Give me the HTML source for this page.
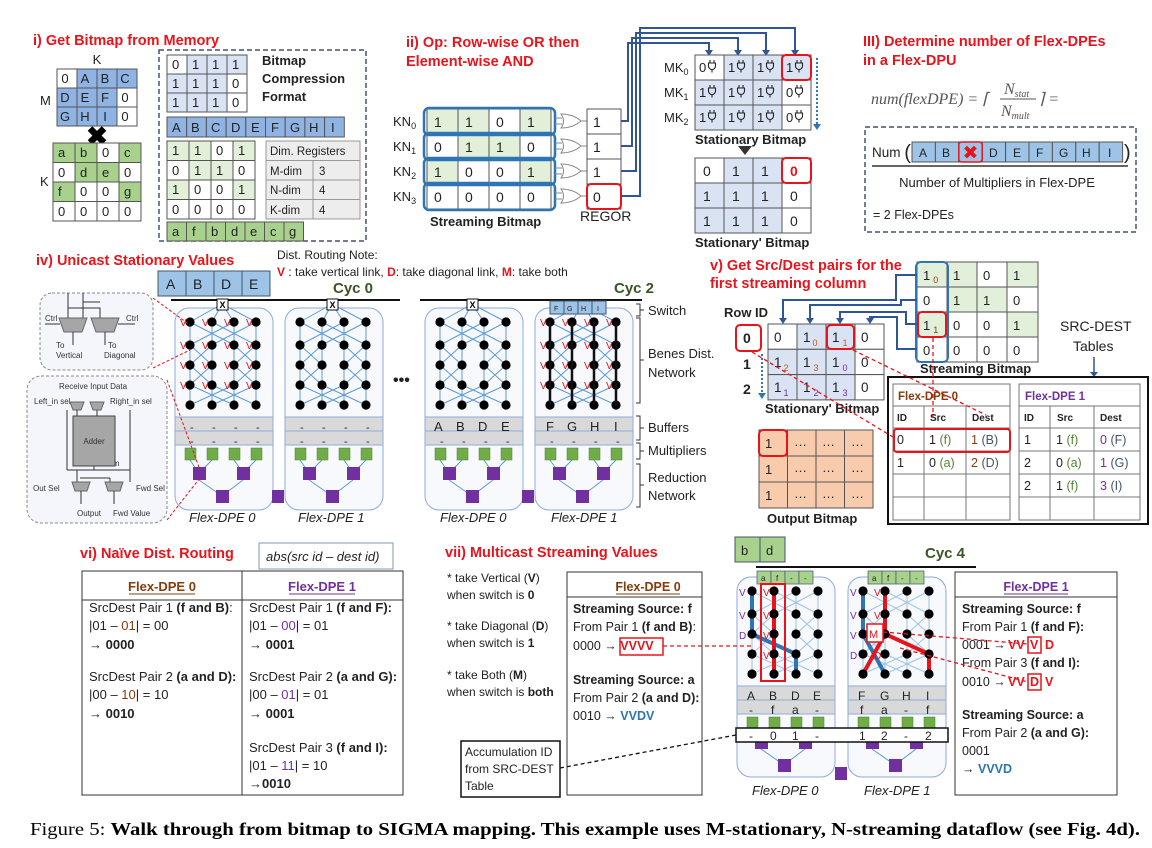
<!DOCTYPE html>
<html><head><meta charset="utf-8"><style>
html,body{margin:0;padding:0;background:#fff;}
svg{display:block;font-family:"Liberation Sans",Arial,sans-serif;}
.t{font-size:13px;fill:#222}
.ti{font-size:14.5px;font-weight:bold;fill:#e8141b}
.b{font-weight:bold}
.c{text-anchor:middle}
.s{font-size:8px;fill:#333}
</style></head><body>
<svg width="1152" height="848" viewBox="0 0 1152 848" xmlns="http://www.w3.org/2000/svg">
<defs>
<g id="net">
 <g stroke="#5b9bd5" stroke-width="1" fill="none">
  <path d="M47,-4L15,14M47,-4L37,14M47,-4L59,14M47,-4L81,14"/>
  <path d="M15,14V97M37,14V97M59,14V97M81,14V97"/>
  <path d="M15,14L59,37M59,14L15,37M37,14L81,37M81,14L37,37"/>
  <path d="M15,37L37,57M37,37L15,57M59,37L81,57M81,37L59,57"/>
  <path d="M15,57L37,77M37,57L15,77M59,57L81,77M81,57L59,77"/>
  <path d="M15,77L59,97M59,77L15,97M37,77L81,97M81,77L37,97"/>
 </g>
 <g id="dots" fill="#000">
  <circle cx="15" cy="14" r="4.6"/><circle cx="37" cy="14" r="4.6"/><circle cx="59" cy="14" r="4.6"/><circle cx="81" cy="14" r="4.6"/>
  <circle cx="15" cy="37" r="4.6"/><circle cx="37" cy="37" r="4.6"/><circle cx="59" cy="37" r="4.6"/><circle cx="81" cy="37" r="4.6"/>
  <circle cx="15" cy="57" r="4.6"/><circle cx="37" cy="57" r="4.6"/><circle cx="59" cy="57" r="4.6"/><circle cx="81" cy="57" r="4.6"/>
  <circle cx="15" cy="77" r="4.6"/><circle cx="37" cy="77" r="4.6"/><circle cx="59" cy="77" r="4.6"/><circle cx="81" cy="77" r="4.6"/>
  <circle cx="15" cy="97" r="4.6"/><circle cx="37" cy="97" r="4.6"/><circle cx="59" cy="97" r="4.6"/><circle cx="81" cy="97" r="4.6"/>
 </g>
</g>
<g id="netl">
 <g stroke="#9dc3e6" stroke-width="1" fill="none">
  <path d="M15,14V97M37,14V97M59,14V97M81,14V97"/>
  <path d="M15,14L59,37M59,14L15,37M37,14L81,37M81,14L37,37"/>
  <path d="M15,37L37,57M37,37L15,57M59,37L81,57M81,37L59,57"/>
  <path d="M15,57L37,77M37,57L15,77M59,57L81,77M81,57L59,77"/>
  <path d="M15,77L59,97M59,77L15,97M37,77L81,97M81,77L37,97"/>
 </g>
</g>
<g id="bot">
 <rect x="0" y="109" width="98" height="14" fill="#d9d9d9" stroke="#8faadc"/>
 <rect x="0" y="123" width="98" height="14" fill="#d9d9d9" stroke="#8faadc"/>
 <g stroke="#5b9bd5" fill="none"><path d="M15,152L24,165M37,152L24,165M59,152L68,165M81,152L68,165M24,172L47,188M68,172L47,188"/></g>
 <g fill="#70ad47" stroke="#507e32" stroke-width=".5"><rect x="10" y="140" width="11" height="12"/><rect x="32" y="140" width="11" height="12"/><rect x="54" y="140" width="11" height="12"/><rect x="76" y="140" width="11" height="12"/></g>
 <g fill="#7030a0"><rect x="18" y="159" width="13" height="13"/><rect x="62" y="159" width="13" height="13"/><rect x="41" y="182" width="13" height="13"/></g>
</g>
<g id="panel"><rect x="0" y="0" width="98" height="202" rx="14" fill="#f7f9fd" stroke="#8faadc"/><use href="#net"/><use href="#bot"/></g>
<g id="plug"><path d="M1,0v3M5,0v3M-0.5,3h7v3a3.5,3.5 0 0 1 -7,0z M3,9.5v3" stroke="#222" stroke-width="1.1" fill="none"/></g>
<g id="orgate"><path d="M0,-7Q12,-7 20,0Q12,7 0,7Q5,0 0,-7Z M-6,-3h7M-6,3h7M20,0h7" stroke="#888" fill="#fff"/></g>
</defs>

<!-- ================= i ================= -->
<text x="33" y="45" class="ti">i) Get Bitmap from Memory</text>
<text x="97" y="64" class="t c">K</text>
<text x="40" y="105" class="t">M</text>
<g stroke="#555" stroke-width="1">
<rect x="57" y="69" width="20" height="19" fill="#fff"/><rect x="77" y="69" width="20" height="19" fill="#8fb4e3"/><rect x="97" y="69" width="20" height="19" fill="#8fb4e3"/><rect x="117" y="69" width="20" height="19" fill="#8fb4e3"/>
<rect x="57" y="88" width="20" height="19" fill="#8fb4e3"/><rect x="77" y="88" width="20" height="19" fill="#8fb4e3"/><rect x="97" y="88" width="20" height="19" fill="#8fb4e3"/><rect x="117" y="88" width="20" height="19" fill="#fff"/>
<rect x="57" y="107" width="20" height="19" fill="#8fb4e3"/><rect x="77" y="107" width="20" height="19" fill="#8fb4e3"/><rect x="97" y="107" width="20" height="19" fill="#8fb4e3"/><rect x="117" y="107" width="20" height="19" fill="#fff"/>
</g>
<g class="t c"><text x="65" y="83">0</text><text x="85" y="83">A</text><text x="105" y="83">B</text><text x="125" y="83">C</text>
<text x="65" y="102">D</text><text x="85" y="102">E</text><text x="105" y="102">F</text><text x="125" y="102">0</text>
<text x="65" y="121">G</text><text x="85" y="121">H</text><text x="105" y="121">I</text><text x="125" y="121">0</text></g>
<text x="97" y="145" class="c" style="font-size:26px;font-weight:bold">✖</text>
<text x="95" y="160" class="t c">N</text>
<text x="40" y="186" class="t">K</text>
<g stroke="#555">
<rect x="53" y="143" width="22" height="19.5" fill="#a9d18e"/><rect x="75" y="143" width="22" height="19.5" fill="#a9d18e"/><rect x="97" y="143" width="22" height="19.5" fill="#fff"/><rect x="119" y="143" width="22" height="19.5" fill="#a9d18e"/>
<rect x="53" y="162.5" width="22" height="19.5" fill="#fff"/><rect x="75" y="162.5" width="22" height="19.5" fill="#a9d18e"/><rect x="97" y="162.5" width="22" height="19.5" fill="#a9d18e"/><rect x="119" y="162.5" width="22" height="19.5" fill="#fff"/>
<rect x="53" y="182" width="22" height="19.5" fill="#a9d18e"/><rect x="75" y="182" width="22" height="19.5" fill="#fff"/><rect x="97" y="182" width="22" height="19.5" fill="#fff"/><rect x="119" y="182" width="22" height="19.5" fill="#a9d18e"/>
<rect x="53" y="201.5" width="22" height="19.5" fill="#fff"/><rect x="75" y="201.5" width="22" height="19.5" fill="#fff"/><rect x="97" y="201.5" width="22" height="19.5" fill="#fff"/><rect x="119" y="201.5" width="22" height="19.5" fill="#fff"/>
</g>
<g class="t"><text x="58" y="157">a</text><text x="80" y="157">b</text><text x="102" y="157">0</text><text x="124" y="157">c</text>
<text x="58" y="177">0</text><text x="80" y="177">d</text><text x="102" y="177">e</text><text x="124" y="177">0</text>
<text x="58" y="196">f</text><text x="80" y="196">0</text><text x="102" y="196">0</text><text x="124" y="196">g</text>
<text x="58" y="216">0</text><text x="80" y="216">0</text><text x="102" y="216">0</text><text x="124" y="216">0</text></g>

<rect x="159" y="50" width="207" height="191" fill="none" stroke="#44546a" stroke-dasharray="5,3" stroke-width="1.5"/>
<g stroke="#555">
<rect x="167" y="55" width="20" height="19" fill="#fff"/><rect x="187" y="55" width="20" height="19" fill="#dae3f3"/><rect x="207" y="55" width="20" height="19" fill="#dae3f3"/><rect x="227" y="55" width="20" height="19" fill="#dae3f3"/>
<rect x="167" y="74" width="20" height="19" fill="#dae3f3"/><rect x="187" y="74" width="20" height="19" fill="#dae3f3"/><rect x="207" y="74" width="20" height="19" fill="#dae3f3"/><rect x="227" y="74" width="20" height="19" fill="#fff"/>
<rect x="167" y="93" width="20" height="19" fill="#dae3f3"/><rect x="187" y="93" width="20" height="19" fill="#dae3f3"/><rect x="207" y="93" width="20" height="19" fill="#dae3f3"/><rect x="227" y="93" width="20" height="19" fill="#fff"/>
</g>
<g class="t"><text x="172" y="69">0</text><text x="192" y="69">1</text><text x="212" y="69">1</text><text x="232" y="69">1</text>
<text x="172" y="88">1</text><text x="192" y="88">1</text><text x="212" y="88">1</text><text x="232" y="88">0</text>
<text x="172" y="107">1</text><text x="192" y="107">1</text><text x="212" y="107">1</text><text x="232" y="107">0</text></g>
<g class="t b"><text x="262" y="65">Bitmap</text><text x="262" y="83">Compression</text><text x="262" y="101">Format</text></g>
<g stroke="#555" fill="#8fb4e3"><rect x="167" y="117" width="19.7" height="20"/><rect x="186.7" y="117" width="19.7" height="20"/><rect x="206.4" y="117" width="19.7" height="20"/><rect x="226.1" y="117" width="19.7" height="20"/><rect x="245.8" y="117" width="19.7" height="20"/><rect x="265.5" y="117" width="19.7" height="20"/><rect x="285.2" y="117" width="19.7" height="20"/><rect x="304.9" y="117" width="19.7" height="20"/><rect x="324.6" y="117" width="19.7" height="20"/></g>
<g class="t"><text x="172" y="132">A</text><text x="191" y="132">B</text><text x="211" y="132">C</text><text x="231" y="132">D</text><text x="251" y="132">E</text><text x="271" y="132">F</text><text x="290" y="132">G</text><text x="309" y="132">H</text><text x="331" y="132">I</text></g>
<g stroke="#555">
<rect x="167" y="141" width="22" height="19.5" fill="#e2f0d9"/><rect x="189" y="141" width="22" height="19.5" fill="#e2f0d9"/><rect x="211" y="141" width="22" height="19.5" fill="#fff"/><rect x="233" y="141" width="22" height="19.5" fill="#e2f0d9"/>
<rect x="167" y="160.5" width="22" height="19.5" fill="#fff"/><rect x="189" y="160.5" width="22" height="19.5" fill="#e2f0d9"/><rect x="211" y="160.5" width="22" height="19.5" fill="#e2f0d9"/><rect x="233" y="160.5" width="22" height="19.5" fill="#fff"/>
<rect x="167" y="180" width="22" height="19.5" fill="#e2f0d9"/><rect x="189" y="180" width="22" height="19.5" fill="#fff"/><rect x="211" y="180" width="22" height="19.5" fill="#fff"/><rect x="233" y="180" width="22" height="19.5" fill="#e2f0d9"/>
<rect x="167" y="199.5" width="22" height="19.5" fill="#fff"/><rect x="189" y="199.5" width="22" height="19.5" fill="#fff"/><rect x="211" y="199.5" width="22" height="19.5" fill="#fff"/><rect x="233" y="199.5" width="22" height="19.5" fill="#fff"/>
</g>
<g class="t"><text x="172" y="155">1</text><text x="194" y="155">1</text><text x="216" y="155">0</text><text x="238" y="155">1</text>
<text x="172" y="175">0</text><text x="194" y="175">1</text><text x="216" y="175">1</text><text x="238" y="175">0</text>
<text x="172" y="194">1</text><text x="194" y="194">0</text><text x="216" y="194">0</text><text x="238" y="194">1</text>
<text x="172" y="214">0</text><text x="194" y="214">0</text><text x="216" y="214">0</text><text x="238" y="214">0</text></g>
<g stroke="#999" fill="#ededed"><rect x="266" y="141" width="94" height="19.5"/><rect x="266" y="160.5" width="47" height="19.5"/><rect x="313" y="160.5" width="47" height="19.5"/><rect x="266" y="180" width="47" height="19.5"/><rect x="313" y="180" width="47" height="19.5"/><rect x="266" y="199.5" width="47" height="19.5"/><rect x="313" y="199.5" width="47" height="19.5"/></g>
<g class="t" style="font-size:11.5px"><text x="270" y="155">Dim. Registers</text><text x="270" y="175">M-dim</text><text x="319" y="175">3</text><text x="270" y="194">N-dim</text><text x="319" y="194">4</text><text x="270" y="214">K-dim</text><text x="319" y="214">4</text></g>
<g stroke="#555" fill="#a9d18e"><rect x="167" y="222" width="19.5" height="19"/><rect x="186.5" y="222" width="19.5" height="19"/><rect x="206" y="222" width="19.5" height="19"/><rect x="225.5" y="222" width="19.5" height="19"/><rect x="245" y="222" width="19.5" height="19"/><rect x="264.5" y="222" width="19.5" height="19"/><rect x="284" y="222" width="19.5" height="19"/></g>
<g class="t"><text x="172" y="236">a</text><text x="192" y="236">f</text><text x="211" y="236">b</text><text x="231" y="236">d</text><text x="250" y="236">e</text><text x="270" y="236">c</text><text x="289" y="236">g</text></g>

<!-- ================= ii ================= -->
<text x="406" y="47" class="ti">ii) Op: Row-wise OR then</text>
<text x="406" y="66" class="ti">Element-wise AND</text>
<g stroke="#555">
<rect x="427" y="109" width="31" height="25" fill="#e2f0d9"/><rect x="458" y="109" width="31" height="25" fill="#e2f0d9"/><rect x="489" y="109" width="31" height="25" fill="#fff"/><rect x="520" y="109" width="31" height="25" fill="#e2f0d9"/>
<rect x="427" y="134" width="31" height="25" fill="#fff"/><rect x="458" y="134" width="31" height="25" fill="#e2f0d9"/><rect x="489" y="134" width="31" height="25" fill="#e2f0d9"/><rect x="520" y="134" width="31" height="25" fill="#fff"/>
<rect x="427" y="159" width="31" height="25" fill="#e2f0d9"/><rect x="458" y="159" width="31" height="25" fill="#fff"/><rect x="489" y="159" width="31" height="25" fill="#fff"/><rect x="520" y="159" width="31" height="25" fill="#e2f0d9"/>
<rect x="427" y="184" width="31" height="25" fill="#fff"/><rect x="458" y="184" width="31" height="25" fill="#fff"/><rect x="489" y="184" width="31" height="25" fill="#fff"/><rect x="520" y="184" width="31" height="25" fill="#fff"/>
</g>
<g fill="none" stroke="#2e75b6" stroke-width="2.5"><rect x="424" y="108" width="131" height="27" rx="5"/><rect x="424" y="133" width="131" height="27" rx="5"/><rect x="424" y="158" width="131" height="27" rx="5"/><rect x="424" y="183" width="131" height="27" rx="5"/></g>
<g class="t" style="font-size:14px"><text x="434" y="127">1</text><text x="465" y="127">1</text><text x="496" y="127">0</text><text x="527" y="127">1</text>
<text x="434" y="152">0</text><text x="465" y="152">1</text><text x="496" y="152">1</text><text x="527" y="152">0</text>
<text x="434" y="177">1</text><text x="465" y="177">0</text><text x="496" y="177">0</text><text x="527" y="177">1</text>
<text x="434" y="202">0</text><text x="465" y="202">0</text><text x="496" y="202">0</text><text x="527" y="202">0</text></g>
<g class="t" style="font-size:13px"><text x="393" y="126">KN<tspan font-size="9" dy="3">0</tspan></text><text x="393" y="151">KN<tspan font-size="9" dy="3">1</tspan></text><text x="393" y="176">KN<tspan font-size="9" dy="3">2</tspan></text><text x="393" y="201">KN<tspan font-size="9" dy="3">3</tspan></text></g>
<text x="430" y="226" class="t b">Streaming Bitmap</text>
<use href="#orgate" x="561" y="121"/><use href="#orgate" x="561" y="146"/><use href="#orgate" x="561" y="171"/><use href="#orgate" x="561" y="196"/>
<g stroke="#555" fill="#fff"><rect x="587" y="109" width="34" height="25"/><rect x="587" y="134" width="34" height="25"/><rect x="587" y="159" width="34" height="25"/><rect x="587" y="184" width="34" height="25"/></g>
<rect x="587" y="184" width="34" height="25" rx="4" fill="none" stroke="#e8141b" stroke-width="2"/>
<g class="t" style="font-size:14px"><text x="593" y="127">1</text><text x="593" y="152">1</text><text x="593" y="177">1</text><text x="593" y="202">0</text></g>
<text x="580" y="221" class="t" style="font-size:14px">REGOR</text>
<g fill="none" stroke="#2f5597" stroke-width="2">
<path d="M621,121H628V43H709V53"/><path d="M621,146H632V38H738V53"/><path d="M621,171H636V33H766V53"/><path d="M621,196H640V28H795V53"/>
</g>
<g fill="#2f5597"><path d="M705,50h8l-4,6z"/><path d="M734,50h8l-4,6z"/><path d="M762,50h8l-4,6z"/><path d="M791,50h8l-4,6z"/></g>
<g stroke="#555">
<rect x="695" y="55" width="29" height="25" fill="#fff"/><rect x="724" y="55" width="29" height="25" fill="#dae3f3"/><rect x="753" y="55" width="29" height="25" fill="#dae3f3"/><rect x="782" y="55" width="29" height="25" fill="#dae3f3"/>
<rect x="695" y="80" width="29" height="25" fill="#dae3f3"/><rect x="724" y="80" width="29" height="25" fill="#dae3f3"/><rect x="753" y="80" width="29" height="25" fill="#dae3f3"/><rect x="782" y="80" width="29" height="25" fill="#fff"/>
<rect x="695" y="105" width="29" height="25" fill="#dae3f3"/><rect x="724" y="105" width="29" height="25" fill="#dae3f3"/><rect x="753" y="105" width="29" height="25" fill="#dae3f3"/><rect x="782" y="105" width="29" height="25" fill="#fff"/>
</g>
<g class="t" style="font-size:13px"><text x="699" y="72">0</text><text x="728" y="72">1</text><text x="757" y="72">1</text><text x="786" y="72">1</text>
<text x="699" y="97">1</text><text x="728" y="97">1</text><text x="757" y="97">1</text><text x="786" y="97">0</text>
<text x="699" y="122">1</text><text x="728" y="122">1</text><text x="757" y="122">1</text><text x="786" y="122">0</text></g>
<use href="#plug" x="709" y="60"/><use href="#plug" x="738" y="60"/><use href="#plug" x="767" y="60"/><use href="#plug" x="796" y="60"/>
<use href="#plug" x="709" y="85"/><use href="#plug" x="738" y="85"/><use href="#plug" x="767" y="85"/><use href="#plug" x="796" y="85"/>
<use href="#plug" x="709" y="110"/><use href="#plug" x="738" y="110"/><use href="#plug" x="767" y="110"/><use href="#plug" x="796" y="110"/>
<rect x="782" y="55" width="29" height="25" rx="4" fill="none" stroke="#e8141b" stroke-width="2"/>
<path d="M817,58V126" stroke="#2e75b6" stroke-width="2" stroke-dasharray="2,2"/><path d="M813,124h8l-4,6z" fill="#2e75b6"/>
<g class="t" style="font-size:13px"><text x="664" y="72">MK<tspan font-size="9" dy="3">0</tspan></text><text x="664" y="97">MK<tspan font-size="9" dy="3">1</tspan></text><text x="664" y="122">MK<tspan font-size="9" dy="3">2</tspan></text></g>
<text x="695" y="144" class="t b">Stationary Bitmap</text>
<path d="M738,146h14l-7,9z" fill="#333"/>
<g stroke="#555">
<rect x="695" y="158" width="29" height="25" fill="#fff"/><rect x="724" y="158" width="29" height="25" fill="#dae3f3"/><rect x="753" y="158" width="29" height="25" fill="#dae3f3"/><rect x="782" y="158" width="29" height="25" fill="#fff"/>
<rect x="695" y="183" width="29" height="25" fill="#dae3f3"/><rect x="724" y="183" width="29" height="25" fill="#dae3f3"/><rect x="753" y="183" width="29" height="25" fill="#dae3f3"/><rect x="782" y="183" width="29" height="25" fill="#fff"/>
<rect x="695" y="208" width="29" height="25" fill="#dae3f3"/><rect x="724" y="208" width="29" height="25" fill="#dae3f3"/><rect x="753" y="208" width="29" height="25" fill="#dae3f3"/><rect x="782" y="208" width="29" height="25" fill="#fff"/>
</g>
<rect x="782" y="158" width="29" height="25" rx="4" fill="none" stroke="#e8141b" stroke-width="2"/>
<g class="t" style="font-size:14px"><text x="703" y="176">0</text><text x="732" y="176">1</text><text x="761" y="176">1</text><text x="790" y="176" fill="#e8141b" font-weight="bold">0</text>
<text x="703" y="201">1</text><text x="732" y="201">1</text><text x="761" y="201">1</text><text x="790" y="201">0</text>
<text x="703" y="226">1</text><text x="732" y="226">1</text><text x="761" y="226">1</text><text x="790" y="226">0</text></g>
<text x="695" y="247" class="t b">Stationary' Bitmap</text>

<!-- ================= III ================= -->
<text x="863" y="46" class="ti">III) Determine number of Flex-DPEs</text>
<text x="863" y="65" class="ti">in a Flex-DPU</text>
<g style="font-family:'Liberation Serif',serif;font-style:italic;font-size:16px" fill="#555">
<text x="871" y="104">num(flexDPE) = ⌈</text>
<text x="1004" y="94">N<tspan font-size="10" dy="3">stat</tspan></text>
<text x="1001" y="116">N<tspan font-size="10" dy="3">mult</tspan></text>
<text x="1038" y="104">⌉  =</text>
</g>
<path d="M1000,99H1036" stroke="#555"/>
<rect x="865" y="127" width="271" height="105" fill="none" stroke="#44546a" stroke-dasharray="5,3" stroke-width="1.5"/>
<text x="872" y="157" class="t" style="font-size:13.5px">Num <tspan font-size="20" dy="2">(</tspan></text>
<g stroke="#555" fill="#9dc3e6"><rect x="912" y="142" width="23.4" height="20"/><rect x="935.4" y="142" width="23.4" height="20"/><rect x="958.8" y="142" width="23.4" height="20"/><rect x="982.2" y="142" width="23.4" height="20"/><rect x="1005.6" y="142" width="23.4" height="20"/><rect x="1029" y="142" width="23.4" height="20"/><rect x="1052.4" y="142" width="23.4" height="20"/><rect x="1075.8" y="142" width="23.4" height="20"/><rect x="1099.2" y="142" width="23.4" height="20"/></g>
<rect x="958.8" y="142" width="23.4" height="20" rx="3" fill="none" stroke="#e8141b" stroke-width="1.5"/>
<text x="970.5" y="159" class="c" fill="#e8141b" style="font-size:19px">✖</text>
<g class="t" style="font-size:12px"><text x="919" y="157">A</text><text x="942" y="157">B</text><text x="989" y="157">D</text><text x="1013" y="157">E</text><text x="1036" y="157">F</text><text x="1059" y="157">G</text><text x="1082" y="157">H</text><text x="1108" y="157">I</text></g>
<text x="1124" y="159" class="t" style="font-size:20px">)</text>
<path d="M872,166H1128" stroke="#333" stroke-width="1.5"/>
<text x="997" y="187" class="t c" style="font-size:13px">Number of Multipliers in Flex-DPE</text>
<text x="873" y="219" class="t" style="font-size:12.5px">= 2 Flex-DPEs</text>

<!-- ================= iv ================= -->
<text x="36" y="265" class="ti">iv) Unicast Stationary Values</text>
<text x="277" y="259" class="t" style="font-size:12px">Dist. Routing Note:</text>
<text x="277" y="276" class="t" style="font-size:12px"><tspan fill="#e8141b" font-weight="bold">V</tspan> : take vertical link,  <tspan fill="#e8141b" font-weight="bold">D</tspan>: take diagonal link, <tspan fill="#e8141b" font-weight="bold">M</tspan>: take both</text>
<g stroke="#44546a" fill="#9dc3e6"><rect x="158" y="271" width="28" height="25"/><rect x="186" y="271" width="28" height="25"/><rect x="214" y="271" width="28" height="25"/><rect x="242" y="271" width="28" height="25"/></g>
<g class="t" style="font-size:14px"><text x="166" y="289">A</text><text x="193" y="289">B</text><text x="221" y="289">D</text><text x="249" y="289">E</text></g>
<text x="333" y="293" class="b" fill="#375623" style="font-size:15px">Cyc 0</text>
<text x="614" y="293" class="b" fill="#375623" style="font-size:15px">Cyc 2</text>
<path d="M171,300H400M420,300H642" stroke="#111" stroke-width="2"/>

<use href="#panel" x="175" y="308"/><use href="#panel" x="285" y="308"/><use href="#panel" x="425" y="308"/><use href="#panel" x="535" y="308"/>
<g stroke="#111" fill="#fff"><rect x="217" y="299" width="11" height="11"/><rect x="327" y="299" width="11" height="11"/><rect x="467" y="299" width="11" height="11"/></g>
<g class="c b" style="font-size:9px"><text x="222.5" y="308">X</text><text x="332.5" y="308">X</text><text x="472.5" y="308">X</text></g>
<g stroke="#111" stroke-width="2.5"><path d="M550,322V405M572,322V405M594,322V405M616,322V405"/></g>
<g stroke="#44546a" fill="#9dc3e6"><rect x="550" y="301" width="14" height="13"/><rect x="564" y="301" width="14" height="13"/><rect x="578" y="301" width="14" height="13"/><rect x="592" y="301" width="14" height="13"/></g>
<g style="font-size:7px" fill="#222"><text x="554" y="311">F</text><text x="567" y="311">G</text><text x="581" y="311">H</text><text x="597" y="311">I</text></g>
<g fill="#e8141b" style="font-size:10px">
<text x="180" y="326">V</text><text x="202" y="326">V</text><text x="224" y="326">V</text><text x="246" y="326">V</text>
<text x="180" y="349">V</text><text x="202" y="349">V</text><text x="224" y="349">V</text><text x="246" y="349">V</text>
<text x="180" y="369">V</text><text x="202" y="369">V</text><text x="224" y="369">V</text><text x="246" y="369">V</text>
<text x="180" y="389">V</text><text x="202" y="389">V</text><text x="224" y="389">V</text><text x="246" y="389">V</text>
<text x="540" y="326">V</text><text x="562" y="326">V</text><text x="584" y="326">V</text><text x="606" y="326">V</text>
<text x="540" y="349">V</text><text x="562" y="349">V</text><text x="584" y="349">V</text><text x="606" y="349">V</text>
<text x="540" y="369">V</text><text x="562" y="369">V</text><text x="584" y="369">V</text><text x="606" y="369">V</text>
<text x="540" y="389">V</text><text x="562" y="389">V</text><text x="584" y="389">V</text><text x="606" y="389">V</text>
</g>
<g class="t" style="font-size:11px" fill="#333">
<text x="190" y="431">-</text><text x="212" y="431">-</text><text x="234" y="431">-</text><text x="256" y="431">-</text>
<text x="190" y="445">-</text><text x="212" y="445">-</text><text x="234" y="445">-</text><text x="256" y="445">-</text>
<text x="300" y="431">-</text><text x="322" y="431">-</text><text x="344" y="431">-</text><text x="366" y="431">-</text>
<text x="300" y="445">-</text><text x="322" y="445">-</text><text x="344" y="445">-</text><text x="366" y="445">-</text>
<text x="440" y="445">-</text><text x="462" y="445">-</text><text x="484" y="445">-</text><text x="506" y="445">-</text>
<text x="550" y="445">-</text><text x="572" y="445">-</text><text x="594" y="445">-</text><text x="616" y="445">-</text>
</g>
<g class="t" style="font-size:13px"><text x="434" y="431">A</text><text x="456" y="431">B</text><text x="478" y="431">D</text><text x="501" y="431">E</text><text x="546" y="431">F</text><text x="567" y="431">G</text><text x="590" y="431">H</text><text x="614" y="431">I</text></g>
<rect x="272" y="490" width="12" height="13" fill="#7030a0"/><rect x="522" y="490" width="12" height="13" fill="#7030a0"/>
<text x="393" y="385" class="t b" style="font-size:16px">•••</text>
<g style="font-family:'Liberation Sans',sans-serif;font-style:italic;font-size:13px" fill="#222"><text x="189" y="522">Flex-DPE 0</text><text x="298" y="522">Flex-DPE 1</text><text x="440" y="522">Flex-DPE 0</text><text x="551" y="522">Flex-DPE 1</text></g>
<g fill="none" stroke="#333"><path d="M636,304h4v6h4M636,316h4v-6"/><path d="M636,318h4v42h4M636,403h4v-43"/><path d="M636,416h4v12h4M636,440h4v-12"/><path d="M636,443h4v8h4M636,459h4v-8"/><path d="M636,464h4v21h4M636,507h4v-22"/></g>
<g class="t" style="font-size:13px"><text x="648" y="315">Switch</text><text x="648" y="358">Benes Dist.</text><text x="648" y="377">Network</text><text x="648" y="432">Buffers</text><text x="648" y="455">Multipliers</text><text x="648" y="482">Reduction</text><text x="648" y="500">Network</text></g>

<!-- left detail boxes -->
<rect x="40" y="293" width="113" height="77" rx="12" fill="#f4f6fb" stroke="#888" stroke-dasharray="3,2"/>
<g stroke="#333" fill="none"><path d="M68,293V330M83,293V330M68,308H100V318M83,302H100M100,302"/></g>
<path d="M59,318h28l-5,14h-18z" fill="#a6a6a6" stroke="#666"/><path d="M91,318h28l-5,14h-18z" fill="#a6a6a6" stroke="#666"/>
<g stroke="#333"><path d="M73,332V345M105,332V345M45,324H60M118,324H135"/></g>
<g class="s"><text x="45" y="321">Ctrl</text><text x="126" y="321">Ctrl</text><text x="56" y="348">To</text><text x="56" y="358">Vertical</text><text x="108" y="348">To</text><text x="104" y="358">Diagonal</text></g>
<rect x="27" y="376" width="140" height="147" rx="14" fill="#f4f6fb" stroke="#888" stroke-dasharray="3,2"/>
<g class="s"><text x="59" y="389">Receive Input Data</text><text x="34" y="404">Left_in sel</text><text x="110" y="404">Right_in sel</text><text x="95" y="466">Accum</text><text x="33" y="491">Out Sel</text><text x="136" y="491">Fwd Sel</text><text x="77" y="516">Output</text><text x="113" y="516">Fwd Value</text></g>
<path d="M70,402h14l-3,8h-8z" fill="#a6a6a6" stroke="#666"/><path d="M90,402h14l-3,8h-8z" fill="#a6a6a6" stroke="#666"/>
<rect x="73" y="416" width="42" height="50" fill="#a6a6a6" stroke="#444"/><text x="94" y="444" class="s c">Adder</text>
<g stroke="#333" fill="none"><path d="M77,410V416M97,410V416M94,466V470M67,470H130M67,410V470M130,410V482M77,470V482M110,478V482M80,478H110"/></g>
<path d="M72,482h18l-3,9h-12z" fill="#a6a6a6" stroke="#666"/><path d="M105,482h18l-3,9h-12z" fill="#a6a6a6" stroke="#666"/>
<g stroke="#333"><path d="M81,491V504M114,491V504"/></g>
<g stroke="#e8141b" stroke-dasharray="3,2" fill="none"><path d="M153,298L190,325M153,368L190,350M167,380L200,470M167,520L200,478"/></g>

<!-- ================= v ================= -->
<text x="710" y="270" class="ti">v) Get Src/Dest pairs for the</text>
<text x="710" y="288" class="ti">first streaming column</text>
<g stroke="#555">
<rect x="917" y="262" width="30" height="25" fill="#e2f0d9"/><rect x="947" y="262" width="30" height="25" fill="#e2f0d9"/><rect x="977" y="262" width="30" height="25" fill="#fff"/><rect x="1007" y="262" width="31" height="25" fill="#e2f0d9"/>
<rect x="917" y="287" width="30" height="25" fill="#fff"/><rect x="947" y="287" width="30" height="25" fill="#e2f0d9"/><rect x="977" y="287" width="30" height="25" fill="#e2f0d9"/><rect x="1007" y="287" width="31" height="25" fill="#fff"/>
<rect x="917" y="312" width="30" height="25" fill="#e2f0d9"/><rect x="947" y="312" width="30" height="25" fill="#fff"/><rect x="977" y="312" width="30" height="25" fill="#fff"/><rect x="1007" y="312" width="31" height="25" fill="#e2f0d9"/>
<rect x="917" y="337" width="30" height="25" fill="#fff"/><rect x="947" y="337" width="30" height="25" fill="#fff"/><rect x="977" y="337" width="30" height="25" fill="#fff"/><rect x="1007" y="337" width="31" height="25" fill="#fff"/>
</g>
<rect x="916" y="262" width="32" height="100" rx="5" fill="none" stroke="#2e75b6" stroke-width="2"/>
<rect x="918" y="312" width="28" height="25" rx="4" fill="none" stroke="#e8141b" stroke-width="2"/>
<g class="t" style="font-size:13px"><text x="923" y="280">1<tspan font-size="9" fill="#843c0c" dx="3" dy="3">0</tspan></text><text x="953" y="280">1</text><text x="983" y="280">0</text><text x="1013" y="280">1</text>
<text x="923" y="305">0</text><text x="953" y="305">1</text><text x="983" y="305">1</text><text x="1013" y="305">0</text>
<text x="923" y="330">1<tspan font-size="9" fill="#843c0c" dx="3" dy="3">1</tspan></text><text x="953" y="330">0</text><text x="983" y="330">0</text><text x="1013" y="330">1</text>
<text x="923" y="355">0</text><text x="953" y="355">0</text><text x="983" y="355">0</text><text x="1013" y="355">0</text></g>
<text x="920" y="373" class="t b">Streaming Bitmap</text>
<g fill="none" stroke="#2f5597" stroke-width="2"><path d="M917,275H896V300H783V319"/><path d="M917,300H901V305H810V319"/><path d="M917,324H906V312H840V319"/><path d="M917,349H897V317H870V319"/></g>
<g fill="#2f5597"><path d="M779,318h8l-4,6z"/><path d="M806,318h8l-4,6z"/><path d="M836,318h8l-4,6z"/><path d="M866,318h8l-4,6z"/></g>
<text x="724" y="317" class="t b">Row ID</text>
<rect x="736" y="325" width="25" height="26" rx="4" fill="none" stroke="#e8141b" stroke-width="2"/>
<g class="t b" style="font-size:14px"><text x="743" y="343">0</text><text x="743" y="369">1</text><text x="743" y="394">2</text></g>
<path d="M762,354V394" stroke="#2e75b6" stroke-width="2" stroke-dasharray="2,2"/><path d="M758,393h8l-4,6z" fill="#2e75b6"/>
<g stroke="#555">
<rect x="768" y="324" width="29" height="25.3" fill="#fff"/><rect x="797" y="324" width="29" height="25.3" fill="#dae3f3"/><rect x="826" y="324" width="29" height="25.3" fill="#dae3f3"/><rect x="855" y="324" width="29" height="25.3" fill="#fff"/>
<rect x="768" y="349.3" width="29" height="25.3" fill="#dae3f3"/><rect x="797" y="349.3" width="29" height="25.3" fill="#dae3f3"/><rect x="826" y="349.3" width="29" height="25.3" fill="#dae3f3"/><rect x="855" y="349.3" width="29" height="25.3" fill="#fff"/>
<rect x="768" y="374.6" width="29" height="25.3" fill="#dae3f3"/><rect x="797" y="374.6" width="29" height="25.3" fill="#dae3f3"/><rect x="826" y="374.6" width="29" height="25.3" fill="#dae3f3"/><rect x="855" y="374.6" width="29" height="25.3" fill="#fff"/>
</g>
<rect x="827" y="325" width="27" height="24" rx="4" fill="none" stroke="#e8141b" stroke-width="2"/>
<g class="t" style="font-size:13.5px">
<text x="774" y="342">0</text><text x="803" y="342">1<tspan font-size="9" fill="#c55a11" dx="2" dy="4">0</tspan></text><text x="832" y="342">1<tspan font-size="9" fill="#c55a11" dx="3" dy="4">1</tspan></text><text x="861" y="342">0</text>
<text x="774" y="367">1<tspan font-size="9" fill="#c55a11" dx="2" dy="4">2</tspan></text><text x="803" y="367">1<tspan font-size="9" fill="#c55a11" dx="3" dy="4">3</tspan></text><text x="832" y="367">1<tspan font-size="9" fill="#7030a0" dx="3" dy="4">0</tspan></text><text x="861" y="367">0</text>
<text x="774" y="392">1<tspan font-size="9" fill="#7030a0" dx="2" dy="4">1</tspan></text><text x="803" y="392">1<tspan font-size="9" fill="#7030a0" dx="3" dy="4">2</tspan></text><text x="832" y="392">1<tspan font-size="9" fill="#7030a0" dx="3" dy="4">3</tspan></text><text x="861" y="392">0</text></g>
<text x="765" y="413" class="t b">Stationary' Bitmap</text>
<g stroke="#555" fill="#f8cbad">
<rect x="759" y="430" width="28.5" height="26"/><rect x="787.5" y="430" width="28.5" height="26"/><rect x="816" y="430" width="28.5" height="26"/><rect x="844.5" y="430" width="28.5" height="26"/>
<rect x="759" y="456" width="28.5" height="26"/><rect x="787.5" y="456" width="28.5" height="26"/><rect x="816" y="456" width="28.5" height="26"/><rect x="844.5" y="456" width="28.5" height="26"/>
<rect x="759" y="482" width="28.5" height="26"/><rect x="787.5" y="482" width="28.5" height="26"/><rect x="816" y="482" width="28.5" height="26"/><rect x="844.5" y="482" width="28.5" height="26"/>
</g>
<rect x="759" y="430" width="28" height="26" rx="4" fill="none" stroke="#e8141b" stroke-width="2"/>
<g class="t" style="font-size:13px"><text x="765" y="448">1</text><text x="765" y="474">1</text><text x="765" y="500">1</text>
<text x="794" y="446">…</text><text x="822" y="446">…</text><text x="851" y="446">…</text><text x="794" y="472">…</text><text x="822" y="472">…</text><text x="851" y="472">…</text><text x="794" y="498">…</text><text x="822" y="498">…</text><text x="851" y="498">…</text></g>
<text x="767" y="523" class="t b">Output Bitmap</text>
<text x="1060" y="331" class="t" style="font-size:14px">SRC-DEST</text>
<text x="1073" y="351" class="t" style="font-size:14px">Tables</text>
<path d="M1094,357V374" stroke="#2f5597" stroke-width="1.5"/><path d="M1090,372h8l-4,5z" fill="#2f5597"/>
<rect x="888" y="377" width="260" height="147" fill="#fff" stroke="#111" stroke-width="2"/>
<g stroke="#777" fill="none">
<rect x="893" y="384" width="117" height="136"/><path d="M893,406H1010M893,428H1010M893,451H1010M893,474H1010M893,497H1010M924,406V520M966,406V520"/>
<rect x="1019" y="384" width="121" height="136"/><path d="M1019,406H1140M1019,428H1140M1019,451H1140M1019,474H1140M1019,497H1140M1050,406V520M1094,406V520"/>
</g>
<text x="898" y="400" class="b" fill="#843c0c" style="font-size:11.5px">Flex-DPE 0</text>
<text x="1025" y="400" class="b" fill="#7030a0" style="font-size:11.5px">Flex-DPE 1</text>
<g class="b" style="font-size:10px" fill="#222"><text x="897" y="421">ID</text><text x="930" y="421">Src</text><text x="972" y="421">Dest</text><text x="1024" y="421">ID</text><text x="1057" y="421">Src</text><text x="1100" y="421">Dest</text></g>
<g class="t" style="font-size:12.5px">
<text x="897" y="444">0</text><text x="929" y="444">1 <tspan fill="#548235">(f)</tspan></text><text x="971" y="444"><tspan fill="#843c0c">1</tspan> <tspan fill="#44546a">(B)</tspan></text>
<text x="897" y="467">1</text><text x="929" y="467">0 <tspan fill="#548235">(a)</tspan></text><text x="971" y="467"><tspan fill="#843c0c">2</tspan> <tspan fill="#44546a">(D)</tspan></text>
<text x="1024" y="444">1</text><text x="1056" y="444">1 <tspan fill="#548235">(f)</tspan></text><text x="1100" y="444"><tspan fill="#7030a0">0</tspan> <tspan fill="#44546a">(F)</tspan></text>
<text x="1024" y="467">2</text><text x="1056" y="467">0 <tspan fill="#548235">(a)</tspan></text><text x="1100" y="467"><tspan fill="#7030a0">1</tspan> <tspan fill="#44546a">(G)</tspan></text>
<text x="1024" y="490">2</text><text x="1056" y="490">1 <tspan fill="#548235">(f)</tspan></text><text x="1100" y="490"><tspan fill="#7030a0">3</tspan> <tspan fill="#44546a">(I)</tspan></text>
</g>
<rect x="894" y="429" width="116" height="23" rx="3" fill="none" stroke="#e8141b" stroke-width="2"/>
<g stroke="#e8141b" stroke-dasharray="4,3" fill="none" stroke-width="1.3"><path d="M752,352L893,437"/><path d="M853,350L986,415"/><path d="M933,338V418"/></g>

<!-- ================= vi ================= -->
<text x="80" y="558" class="ti">vi) Naïve Dist. Routing</text>
<rect x="259" y="543" width="134" height="26" fill="#fff" stroke="#8497b0"/>
<text x="266" y="561" class="t" style="font-style:italic;font-size:13px">abs(src id – dest id)</text>
<rect x="82" y="571" width="321" height="224" fill="#fff" stroke="#333"/>
<path d="M82,600H403M242,571V795" stroke="#333"/>
<text x="162" y="591" class="c b" fill="#843c0c" style="font-size:13px">Flex-DPE 0</text>
<path d="M129,594H195" stroke="#843c0c"/>
<text x="322" y="591" class="c b" fill="#7030a0" style="font-size:13px">Flex-DPE 1</text>
<path d="M289,594H355" stroke="#7030a0"/>
<g class="t" style="font-size:13px">
<text x="89" y="612">SrcDest Pair 1 <tspan font-weight="bold">(f and B)</tspan>:</text>
<text x="89" y="630">|01 – <tspan fill="#843c0c">01</tspan>| = 00</text>
<text x="89" y="649" font-weight="bold">→ 0000</text>
<text x="89" y="681">SrcDest Pair 2 <tspan font-weight="bold">(a and D):</tspan></text>
<text x="89" y="699">|00 – <tspan fill="#843c0c">10</tspan>| = 10</text>
<text x="89" y="718" font-weight="bold">→ 0010</text>
<text x="249" y="612">SrcDest Pair 1 <tspan font-weight="bold">(f and F):</tspan></text>
<text x="249" y="630">|01 – <tspan fill="#7030a0">00</tspan>| = 01</text>
<text x="249" y="649" font-weight="bold">→ 0001</text>
<text x="249" y="681">SrcDest Pair 2 <tspan font-weight="bold">(a and G):</tspan></text>
<text x="249" y="699">|00 – <tspan fill="#7030a0">01</tspan>| = 01</text>
<text x="249" y="718" font-weight="bold">→ 0001</text>
<text x="249" y="752">SrcDest Pair 3 <tspan font-weight="bold">(f and I):</tspan></text>
<text x="249" y="770">|01 – <tspan fill="#7030a0">11</tspan>| = 10</text>
<text x="249" y="788" font-weight="bold">→0010</text>
</g>

<!-- ================= vii ================= -->
<text x="445" y="557" class="ti">vii) Multicast Streaming Values</text>
<g class="t" style="font-size:12px">
<text x="447" y="582">* take Vertical (<tspan font-weight="bold">V</tspan>)</text><text x="447" y="599">when switch is <tspan font-weight="bold">0</tspan></text>
<text x="447" y="630">* take Diagonal (<tspan font-weight="bold">D</tspan>)</text><text x="447" y="647">when switch is <tspan font-weight="bold">1</tspan></text>
<text x="447" y="679">* take Both (<tspan font-weight="bold">M</tspan>)</text><text x="447" y="696">when switch is <tspan font-weight="bold">both</tspan></text>
</g>
<rect x="461" y="741" width="99" height="56" fill="#fff" stroke="#111" stroke-width="1.5"/>
<g class="t" style="font-size:12px"><text x="465" y="756">Accumulation ID</text><text x="465" y="773">from SRC-DEST</text><text x="465" y="790">Table</text></g>
<rect x="567" y="572" width="135" height="223" fill="#fff" stroke="#333"/><path d="M567,597H702" stroke="#333"/>
<text x="648" y="591" class="c b" fill="#843c0c" style="font-size:12.5px">Flex-DPE 0</text><path d="M616,594H680" stroke="#843c0c"/>
<g class="t" style="font-size:12.5px">
<text x="573" y="613" font-weight="bold">Streaming Source: f</text>
<text x="573" y="631">From Pair 1 <tspan font-weight="bold">(f and B)</tspan>:</text>
<text x="573" y="650">0000 → <tspan fill="#e8141b" font-weight="bold">VVVV</tspan></text>
<text x="573" y="684" font-weight="bold">Streaming Source: a</text>
<text x="573" y="702">From Pair 2 <tspan font-weight="bold">(a and D):</tspan></text>
<text x="573" y="720">0010 → <tspan fill="#2e75b6" font-weight="bold">VVDV</tspan></text>
</g>
<rect x="620" y="638" width="43" height="17" fill="none" stroke="#e8141b" stroke-width="1.5"/>
<rect x="955" y="572" width="162" height="223" fill="#fff" stroke="#333"/><path d="M955,597H1117" stroke="#333"/>
<text x="1036" y="591" class="c b" fill="#7030a0" style="font-size:12.5px">Flex-DPE 1</text><path d="M1004,594H1068" stroke="#7030a0"/>
<g class="t" style="font-size:12.5px">
<text x="962" y="613" font-weight="bold">Streaming Source: f</text>
<text x="962" y="631">From Pair 1 <tspan font-weight="bold">(f and F):</tspan></text>
<text x="962" y="649">0001 →</text>
<text x="962" y="667">From Pair 3 <tspan font-weight="bold">(f and I):</tspan></text>
<text x="962" y="686">0010 →</text>
<text x="962" y="719" font-weight="bold">Streaming Source: a</text>
<text x="962" y="737">From Pair 2 <tspan font-weight="bold">(a and G):</tspan></text>
<text x="962" y="755">0001</text>
<text x="962" y="773">→ <tspan fill="#2e75b6" font-weight="bold">VVVD</tspan></text>
</g>
<g class="b" fill="#e8141b" style="font-size:12.5px"><text x="1008" y="649">VV</text><text x="1030" y="649">V</text><text x="1045" y="649">D</text><text x="1008" y="686">VV</text><text x="1030" y="686">D</text><text x="1045" y="686">V</text></g>
<rect x="1028" y="637" width="13" height="16" fill="none" stroke="#e8141b" stroke-width="1.5"/>
<rect x="1028" y="674" width="13" height="16" fill="none" stroke="#e8141b" stroke-width="1.5"/>

<g stroke="#44546a" fill="#a9d18e"><rect x="735" y="537" width="25" height="25"/><rect x="760" y="537" width="25" height="25"/></g>
<g class="t" style="font-size:13px"><text x="741" y="555">b</text><text x="766" y="555">d</text></g>
<text x="925" y="558" class="b" fill="#375623" style="font-size:15px">Cyc 4</text>
<path d="M756,567H976" stroke="#111" stroke-width="2"/>
<g transform="translate(737,577)"><rect x="0" y="0" width="98" height="200" rx="14" fill="#f7f9fd" stroke="#8faadc"/><use href="#netl"/><use href="#bot"/></g>
<g transform="translate(848,577)"><rect x="0" y="0" width="98" height="200" rx="14" fill="#f7f9fd" stroke="#8faadc"/><use href="#netl"/><use href="#bot"/></g>
<g stroke="#44546a" fill="#a9d18e" stroke-width=".7"><rect x="757" y="571" width="14" height="13"/><rect x="771" y="571" width="14" height="13"/><rect x="785" y="571" width="14" height="13"/><rect x="799" y="571" width="14" height="13"/><rect x="868" y="571" width="14" height="13"/><rect x="882" y="571" width="14" height="13"/><rect x="896" y="571" width="14" height="13"/><rect x="910" y="571" width="14" height="13"/></g>
<g style="font-size:8px" fill="#222"><text x="761" y="581">a</text><text x="776" y="581">f</text><text x="790" y="581">-</text><text x="804" y="581">-</text><text x="872" y="581">a</text><text x="887" y="581">f</text><text x="901" y="581">-</text><text x="915" y="581">-</text></g>
<!-- thick routes DPE0 -->
<g stroke="#2e75b6" stroke-width="4" fill="none"><path d="M752,591V634L796,654V674"/></g>
<g stroke="#e8141b" stroke-width="4" fill="none"><path d="M774,591V674"/></g>
<rect x="761" y="584" width="24" height="97" fill="none" stroke="#e8141b" stroke-width="2"/>
<!-- DPE1 -->
<g stroke="#2e75b6" stroke-width="4" fill="none"><path d="M863,591V634L885,674"/></g>
<g stroke="#e8141b" stroke-width="4" fill="none"><path d="M885,591V634L929,654V674M885,634L863,674"/></g>
<g transform="translate(737,577)"><use href="#dots"/></g>
<g transform="translate(848,577)"><use href="#dots"/></g>
<rect x="867" y="624" width="16" height="18" fill="#fff" stroke="#e8141b" stroke-width="1.5"/>
<text x="869" y="638" fill="#e8141b" style="font-size:11px">M</text>
<g style="font-size:10px"><g fill="#7030a0"><text x="739" y="596">V</text><text x="739" y="619">V</text><text x="739" y="639">D</text><text x="850" y="596">V</text><text x="850" y="619">V</text><text x="850" y="639">V</text><text x="850" y="659">D</text></g>
<g fill="#e8141b"><text x="763" y="596">V</text><text x="763" y="619">V</text><text x="763" y="639">V</text><text x="763" y="659">V</text><text x="874" y="596">V</text><text x="874" y="619">V</text><text x="874" y="659">D</text></g></g>
<g class="t" style="font-size:12px" fill="#333"><text x="747" y="700">A</text><text x="769" y="700">B</text><text x="791" y="700">D</text><text x="813" y="700">E</text><text x="858" y="700">F</text><text x="880" y="700">G</text><text x="902" y="700">H</text><text x="926" y="700">I</text>
<text x="749" y="714">-</text><text x="771" y="714">f</text><text x="792" y="714">a</text><text x="815" y="714">-</text><text x="860" y="714">f</text><text x="881" y="714">a</text><text x="904" y="714">-</text><text x="926" y="714">f</text></g>
<rect x="736" y="728" width="212" height="14" fill="#fff" stroke="#111" stroke-width="1.5"/>
<g class="t" style="font-size:12px"><text x="749" y="740">-</text><text x="770" y="740">0</text><text x="792" y="740">1</text><text x="815" y="740">-</text><text x="859" y="740">1</text><text x="881" y="740">2</text><text x="904" y="740">-</text><text x="925" y="740">2</text></g>
<rect x="835" y="767" width="12" height="13" fill="#7030a0"/>
<g style="font-style:italic;font-size:13px" fill="#222"><text x="752" y="795">Flex-DPE 0</text><text x="864" y="795">Flex-DPE 1</text></g>
<g stroke="#e8141b" stroke-dasharray="4,3" fill="none" stroke-width="1.3"><path d="M663,646H752"/><path d="M883,632L1028,644"/><path d="M900,648L1028,682"/></g>
<path d="M560,768L736,735" stroke="#111" stroke-dasharray="4,3" stroke-width="1.3"/>

<!-- caption -->
<text x="30" y="835" textLength="1110" lengthAdjust="spacingAndGlyphs" style="font-family:'Liberation Serif',serif;font-size:17.5px" fill="#000">Figure 5: <tspan font-weight="bold">Walk through from bitmap to SIGMA mapping. This example uses M-stationary, N-streaming dataflow (see Fig. 4d).</tspan></text>
</svg>
</body></html>
